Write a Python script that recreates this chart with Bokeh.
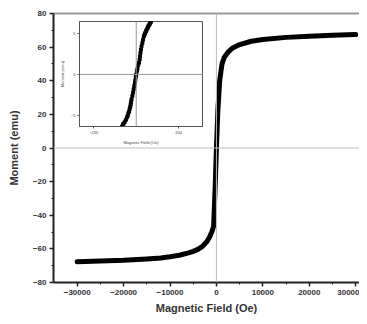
from bokeh.plotting import figure
from bokeh.models import Range1d, LinearAxis, FixedTicker, Span
from bokeh.embed import file_html
from bokeh.resources import INLINE

# Main hysteresis curve (Oe, emu)
field = [-30000, -25000, -20000, -15000, -12000, -10000, -8000, -6000, -5000, -4000,
         -3000, -2000, -1500, -1000, -600, -300, 0, 300, 700, 1200,
         1700, 2500, 3500, 5000, 7500, 10000, 15000, 20000, 25000, 30000]
moment = [-67.7, -67.2, -66.8, -66.0, -65.4, -64.7, -63.8, -62.4, -61.5, -60.3,
          -58.5, -55.5, -53.0, -50.0, -46.5, -25.0, 0.0, 22.0, 40.0, 50.0,
          54.0, 57.0, 59.5, 61.5, 63.5, 64.5, 65.8, 66.5, 67.0, 67.5]

# Inset (low-field region)
inset_field = [-67, -61, -55, -49, -44, -40, -37, -34, -31, -28, -26, -24, -22, -18, -15, -12,
               -9, -6, -4, -2, 0, 3, 6, 9, 13, 16, 18, 20, 22, 25, 29, 32, 36, 39, 42, 46,
               49, 53, 56, 58, 62, 65, 68, 71]
inset_moment = [-6.3, -6.0, -5.8, -5.5, -5.2, -5.0, -4.7, -4.5, -4.2, -3.9, -3.6, -3.3, -3.0, -2.6, -2.2, -1.8,
                -1.4, -1.0, -0.7, -0.3, 0.0, 0.4, 0.7, 1.1, 1.4, 1.8, 2.2, 2.6, 3.0, 3.4, 3.8, 4.2, 4.6, 4.8, 5.0, 5.2,
                5.4, 5.6, 5.7, 5.9, 6.0, 6.2, 6.3, 6.5]

x_ticks = [-30000, -20000, -10000, 0, 10000, 20000, 30000]
y_ticks = [-80, -60, -40, -20, 0, 20, 40, 60, 80]
inset_x_ticks = [-200, 200]
inset_y_ticks = [-5, 0, 5]

FONT = "Liberation Sans"

p = figure(width=359, height=316, output_backend="svg", toolbar_location=None,
           x_range=Range1d(-35100, 30820), y_range=Range1d(-80, 80),
           min_border_left=53, min_border_right=0, min_border_top=13, min_border_bottom=33)
p.outline_line_color = None
p.grid.visible = False
p.background_fill_color = "white"

p.add_layout(Span(location=0, dimension="width", line_color="#bdbdbd", line_width=1))
p.add_layout(Span(location=0, dimension="height", line_color="#bdbdbd", line_width=1))

p.line(field, moment, line_color="black", line_width=5, line_join="round", line_cap="round")

for ax in (p.xaxis[0], p.yaxis[0]):
    ax.axis_line_color = "#222222"
    ax.axis_line_width = 2
    ax.major_tick_line_color = "#222222"
    ax.major_tick_line_width = 1.5
    ax.major_tick_out = 4
    ax.major_tick_in = 0
    ax.minor_tick_line_color = "#222222"
    ax.minor_tick_out = 2
    ax.minor_tick_in = 0
    ax.major_label_text_font = FONT
    ax.major_label_text_font_style = "bold"
    ax.major_label_text_font_size = "8px"
    ax.major_label_text_color = "#333333"
    ax.axis_label_text_font = FONT
    ax.axis_label_text_font_style = "bold"
    ax.axis_label_text_font_size = "11px"
    ax.axis_label_text_color = "#333333"

p.xaxis[0].ticker = FixedTicker(ticks=x_ticks, minor_ticks=[-25000, -15000, -5000, 5000, 15000, 25000])
p.yaxis[0].ticker = FixedTicker(ticks=y_ticks, minor_ticks=[-70, -50, -30, -10, 10, 30, 50, 70])
p.xaxis[0].axis_label = "Magnetic Field (Oe)"
p.yaxis[0].axis_label = "Moment (emu)"
p.xaxis[0].major_label_standoff = 3
p.xaxis[0].axis_label_standoff = 4
p.yaxis[0].major_label_standoff = 3
p.yaxis[0].axis_label_standoff = 10

top = LinearAxis(ticker=FixedTicker(ticks=[]), axis_line_color="#999999", axis_line_width=2,
                 major_tick_line_color=None, minor_tick_line_color=None,
                 major_label_text_font_size="0px")
p.add_layout(top, "above")

# Inset figure
q = figure(width=150, height=130, output_backend="svg", toolbar_location=None,
           x_range=Range1d(-267, 312), y_range=Range1d(-6.3, 6.4),
           min_border_left=17, min_border_right=4, min_border_top=4, min_border_bottom=20,
           styles={"position": "absolute", "left": "56px", "top": "17px"})
q.border_fill_color = None
q.background_fill_color = "white"
q.outline_line_color = "#555555"
q.outline_line_width = 1
q.grid.visible = False
q.add_layout(Span(location=0, dimension="width", line_color="#999999", line_width=1))
q.add_layout(Span(location=0, dimension="height", line_color="#999999", line_width=1))
q.scatter(inset_field, inset_moment, size=3, color="black", marker="square")

for ax in (q.xaxis[0], q.yaxis[0]):
    ax.axis_line_color = "#555555"
    ax.major_tick_line_color = "#555555"
    ax.major_tick_out = 2
    ax.major_tick_in = 0
    ax.minor_tick_line_color = None
    ax.major_label_text_font = FONT
    ax.major_label_text_font_size = "4px"
    ax.major_label_text_color = "#444444"
    ax.major_label_standoff = 2
    ax.axis_label_text_font = FONT
    ax.axis_label_text_font_size = "4px"
    ax.axis_label_text_font_style = "normal"
    ax.axis_label_text_color = "#444444"
    ax.axis_label_standoff = 3
q.xaxis[0].ticker = FixedTicker(ticks=inset_x_ticks)
q.yaxis[0].ticker = FixedTicker(ticks=inset_y_ticks)
q.xaxis[0].axis_label = "Magnetic Field (Oe)"
q.yaxis[0].axis_label = "Moment (emu)"

open("out.html", "w").write(file_html([p, q], INLINE))
